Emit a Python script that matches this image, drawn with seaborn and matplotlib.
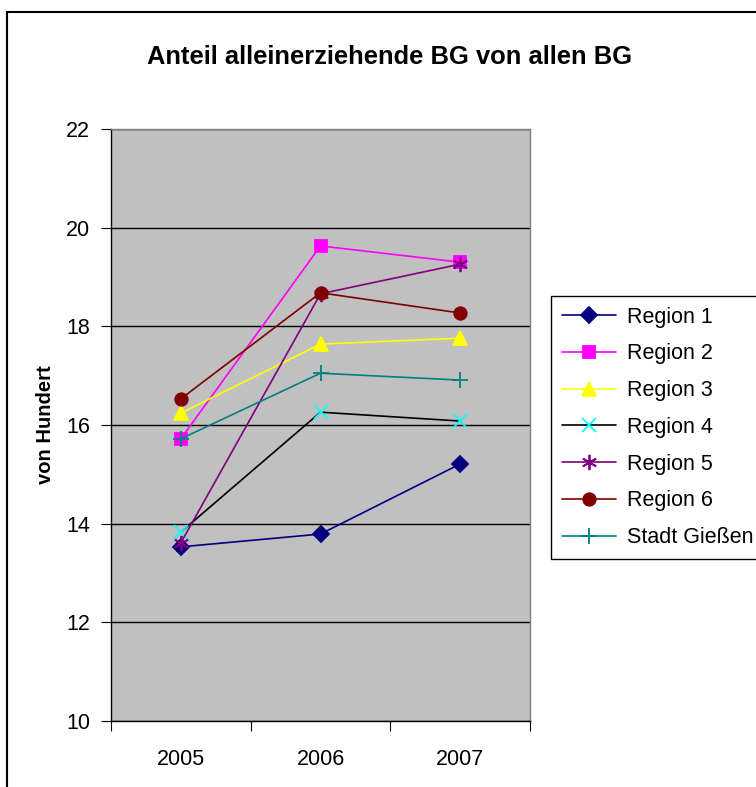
import numpy as np
import pandas as pd
import seaborn as sns
import matplotlib.pyplot as plt
from matplotlib.patches import Rectangle
from matplotlib.ticker import FixedLocator

years = ["2005", "2006", "2007"]
region_1 = [13.53, 13.79, 15.21]
region_2 = [15.72, 19.63, 19.30]
region_3 = [16.24, 17.64, 17.76]
region_4 = [13.83, 16.26, 16.08]
region_5 = [13.61, 18.66, 19.26]
region_6 = [16.53, 18.68, 18.27]
stadt_giessen = [15.72, 17.05, 16.91]

series = {
    "Region 1": region_1,
    "Region 2": region_2,
    "Region 3": region_3,
    "Region 4": region_4,
    "Region 5": region_5,
    "Region 6": region_6,
    "Stadt Gießen": stadt_giessen,
}

# line colour, marker, marker colour, marker size
styles = {
    "Region 1": ("#000080", "D", "#000080", 8),
    "Region 2": ("#FF00FF", "s", "#FF00FF", 8),
    "Region 3": ("#FFFF00", "^", "#FFFF00", 10),
    "Region 4": ("#000000", "x", "#00FFFF", 10),
    "Region 5": ("#800080", (6, 2, 0), "#800080", 11),
    "Region 6": ("#800000", "o", "#800000", 9),
    "Stadt Gießen": ("#008080", "+", "#008080", 12),
}

rows = []
for name, vals in series.items():
    for i, v in enumerate(vals):
        rows.append({"serie": name, "jahr": i, "wert": v})
df = pd.DataFrame(rows)

sns.set_style("white")
plt.rcParams["font.family"] = ["Liberation Sans", "DejaVu Sans"]
plt.rcParams["text.color"] = "black"
plt.rcParams["axes.labelcolor"] = "black"
plt.rcParams["xtick.color"] = "black"
plt.rcParams["ytick.color"] = "black"

fig = plt.figure(figsize=(7.56, 7.87), dpi=100)
ax = fig.add_axes([111 / 756, 1 - 721 / 787, 419 / 756, 592 / 787])
ax.set_facecolor("#C0C0C0")

for name in series:
    col, mk, mcol, ms = styles[name]
    sub = df[df["serie"] == name]
    sns.lineplot(data=sub, x="jahr", y="wert", ax=ax, color=col, marker=mk,
                 markersize=ms, markerfacecolor=mcol, markeredgecolor=mcol,
                 markeredgewidth=1.3, linewidth=1.2, label=name)

ax.set_xlim(-0.5, 2.5)
ax.set_ylim(10, 22)
ax.set_yticks(np.arange(10, 23, 2))
ax.set_xticks(range(3))
ax.set_xticklabels(years)
ax.xaxis.set_minor_locator(FixedLocator([-0.5, 0.5, 1.5, 2.5]))
ax.tick_params(axis="x", which="major", bottom=False, length=0, pad=20, labelsize=15.5)
ax.tick_params(axis="x", which="minor", bottom=True, length=7, width=0.8, color="black", direction="out")
ax.tick_params(axis="y", left=True, length=7, width=0.8, color="black", direction="out", labelsize=15.5, pad=8)
ax.yaxis.grid(True, color="black", linewidth=1)
ax.set_axisbelow(True)
for s in ["left", "bottom"]:
    ax.spines[s].set_color("black")
    ax.spines[s].set_linewidth(1)
for s in ["top", "right"]:
    ax.spines[s].set_color("#808080")
    ax.spines[s].set_linewidth(1)

ax.set_xlabel("")
ax.set_ylabel("von Hundert", fontsize=14.5, fontweight="bold", labelpad=8)

fig.text(390 / 756, 1 - 57 / 787, "Anteil alleinerziehende BG von allen BG",
         ha="center", va="center", fontsize=18.4, fontweight="bold")

leg = ax.legend(loc="upper left", bbox_to_anchor=(551 / 756, 1 - 296 / 787),
                bbox_transform=fig.transFigure, borderaxespad=0, fontsize=15.5,
                frameon=True, fancybox=False, edgecolor="black", framealpha=1,
                handlelength=2.5, labelspacing=0.73, borderpad=0.5, handletextpad=0.55)
leg.get_frame().set_linewidth(1)

fig.patches.append(Rectangle((7 / 756, -0.1), 1.2, 1 - 12 / 787 + 0.1,
                             transform=fig.transFigure, fill=False,
                             edgecolor="black", linewidth=1.5))

fig.savefig("out.png", dpi=100)
